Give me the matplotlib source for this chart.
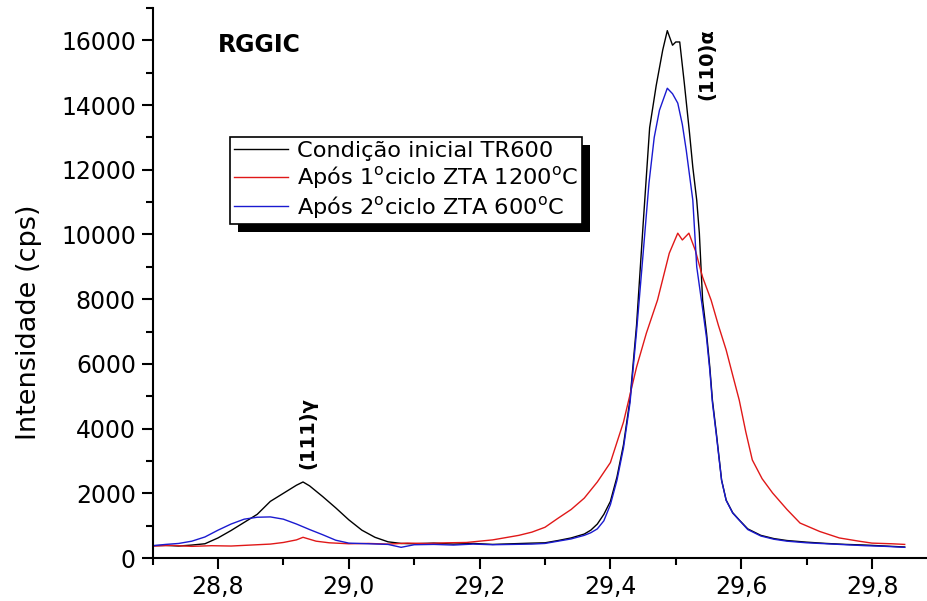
import matplotlib
matplotlib.use('Agg')
import matplotlib.pyplot as plt
import matplotlib.patches as mpatches
import matplotlib.transforms as mtransforms
from matplotlib.ticker import MultipleLocator, FuncFormatter

# curva preta - condicao inicial TR600
x_ini = [28.70, 28.72, 28.74, 28.76, 28.78, 28.80, 28.82, 28.84, 28.86, 28.88, 28.90, 28.92, 28.93, 28.94,
         28.96, 28.98, 29.00, 29.02, 29.04, 29.06, 29.08, 29.10, 29.13, 29.16, 29.19, 29.22, 29.25, 29.28,
         29.30, 29.32, 29.34, 29.36, 29.37, 29.38, 29.39, 29.40, 29.41, 29.42, 29.43, 29.44, 29.45, 29.46,
         29.47, 29.48, 29.487, 29.495, 29.50, 29.506, 29.513, 29.521, 29.526, 29.532, 29.536, 29.541,
         29.547, 29.552, 29.556, 29.562, 29.570, 29.577, 29.587, 29.597, 29.61, 29.63, 29.65, 29.67,
         29.70, 29.73, 29.76, 29.79, 29.82, 29.85]
y_ini = [380, 390, 370, 400, 440, 620, 850, 1100, 1350, 1750, 2000, 2250, 2350, 2230,
         1900, 1550, 1180, 860, 640, 500, 450, 440, 460, 430, 450, 420, 440, 460,
         470, 540, 620, 740, 860, 1050, 1350, 1750, 2500, 3500, 4900, 7200, 10300, 13300,
         14600, 15700, 16300, 15850, 15950, 15950, 14680, 13130, 12080, 11060, 10040, 7970,
         6950, 5900, 4880, 3860, 2410, 1790, 1400, 1175, 900, 700, 600, 540,
         490, 450, 420, 400, 370, 340]

# curva vermelha - apos 1o ciclo ZTA 1200
x_c1 = [28.70, 28.73, 28.76, 28.79, 28.82, 28.85, 28.88, 28.90, 28.92, 28.93, 28.95, 28.97, 29.00, 29.03,
        29.06, 29.09, 29.12, 29.15, 29.18, 29.20, 29.22, 29.24, 29.26, 29.28, 29.30, 29.32, 29.34, 29.36,
        29.38, 29.40, 29.42, 29.44, 29.455, 29.472, 29.49, 29.503, 29.51, 29.52, 29.53, 29.541, 29.554,
        29.565, 29.577, 29.587, 29.597, 29.607, 29.617, 29.632, 29.648, 29.67, 29.69, 29.72, 29.75,
        29.78, 29.80, 29.83, 29.85]
y_c1 = [370, 390, 360, 380, 370, 400, 430, 480, 560, 640, 520, 470, 440, 450,
        430, 460, 450, 470, 480, 520, 560, 630, 700, 800, 950, 1230, 1500, 1850,
        2350, 2950, 4200, 5900, 6950, 7970, 9420, 10040, 9830, 10040, 9500, 8680, 7970,
        7200, 6430, 5650, 4880, 3900, 3030, 2450, 2010, 1500, 1080, 820, 620,
        520, 460, 440, 420]

# curva azul - apos 2o ciclo ZTA 600
x_c2 = [28.70, 28.72, 28.74, 28.76, 28.78, 28.80, 28.82, 28.84, 28.86, 28.88, 28.90, 28.92, 28.94, 28.96,
        28.98, 29.00, 29.03, 29.06, 29.08, 29.10, 29.13, 29.16, 29.19, 29.22, 29.25, 29.28, 29.30, 29.32,
        29.34, 29.36, 29.37, 29.38, 29.39, 29.40, 29.41, 29.42, 29.43, 29.44, 29.45, 29.459, 29.467,
        29.475, 29.487, 29.495, 29.503, 29.51, 29.516, 29.526, 29.532, 29.541, 29.547, 29.552, 29.556,
        29.562, 29.570, 29.577, 29.587, 29.597, 29.61, 29.63, 29.65, 29.67, 29.70, 29.73, 29.76, 29.79,
        29.82, 29.85]
y_c2 = [380, 420, 450, 520, 650, 860, 1050, 1200, 1260, 1270, 1200, 1050, 880, 720,
        550, 460, 440, 420, 330, 410, 420, 400, 430, 410, 420, 430, 450, 520,
        590, 700, 780, 900, 1150, 1650, 2400, 3400, 4800, 7000, 9400, 11590, 13000,
        13840, 14520, 14350, 14060, 13400, 12600, 11060, 9000, 7700, 6800, 5800, 4800,
        3800, 2400, 1780, 1390, 1170, 880, 680, 580, 520, 470, 440, 410, 380,
        360, 330]

labels = ['Condição inicial TR600',
          r'Após 1$^{\rm o}$ciclo ZTA 1200$^{\rm o}$C',
          r'Após 2$^{\rm o}$ciclo ZTA 600$^{\rm o}$C']

plt.rcParams['font.family'] = ['DejaVu Sans']
plt.rcParams['mathtext.fontset'] = 'dejavusans'

fig = plt.figure(figsize=(9.28, 6.01), dpi=100)
ax = fig.add_axes([152.6 / 928, 43 / 601, 1 - 152.6 / 928, 550 / 601])

ax.plot(x_ini, y_ini, color='black', lw=1.0, label=labels[0])
ax.plot(x_c1, y_c1, color='#e01818', lw=1.0, label=labels[1])
ax.plot(x_c2, y_c2, color='#1a1ad0', lw=1.0, label=labels[2])

ax.set_xlim(28.7, 28.7 + 775.4 / 654)
ax.set_ylim(0, 17000)
ax.xaxis.set_major_locator(MultipleLocator(0.2))
ax.xaxis.set_minor_locator(MultipleLocator(0.1))
ax.yaxis.set_major_locator(MultipleLocator(2000))
ax.yaxis.set_minor_locator(MultipleLocator(1000))
ax.xaxis.set_major_formatter(FuncFormatter(lambda v, p: ('%.1f' % v).replace('.', ',')))
ax.yaxis.set_major_formatter(FuncFormatter(lambda v, p: '%d' % v))

for s in ['top', 'right']:
    ax.spines[s].set_visible(False)
for s in ['left', 'bottom']:
    ax.spines[s].set_linewidth(1.5)
ax.tick_params(which='major', direction='out', length=8, width=1.5, labelsize=17, pad=4)
ax.tick_params(which='minor', direction='out', length=5, width=1.5)

ax.set_ylabel('Intensidade (cps)', fontsize=19.5)
ax.yaxis.set_label_coords(-0.143, 0.429)

ax.text(28.863, 15850, 'RGGIC', fontsize=17, fontweight='bold', ha='center', va='center')
ax.text(28.938, 3860, '(111)γ', fontsize=14, fontweight='bold', rotation=90, ha='center', va='center')
ax.text(29.547, 15280, '(110)α', fontsize=14, fontweight='bold', rotation=90, ha='center', va='center')

leg = ax.legend(loc='upper left', bbox_to_anchor=(0.0998, 0.7655), borderaxespad=0,
                fontsize=16.2, frameon=True, fancybox=False, framealpha=1, edgecolor='black',
                handlelength=2.4, handletextpad=0.4, borderpad=0.18, labelspacing=0.15)
leg.get_frame().set_linewidth(1.2)

# sombra preta do quadro da legenda
fig.canvas.draw()
bb = leg.get_window_extent()
sombra = mpatches.Rectangle((bb.x0 + 8, bb.y0 - 8), bb.width, bb.height, facecolor='black',
                            edgecolor='none', transform=mtransforms.IdentityTransform(),
                            zorder=4, clip_on=False)
ax.add_patch(sombra)

fig.savefig('out.png', dpi=100)
